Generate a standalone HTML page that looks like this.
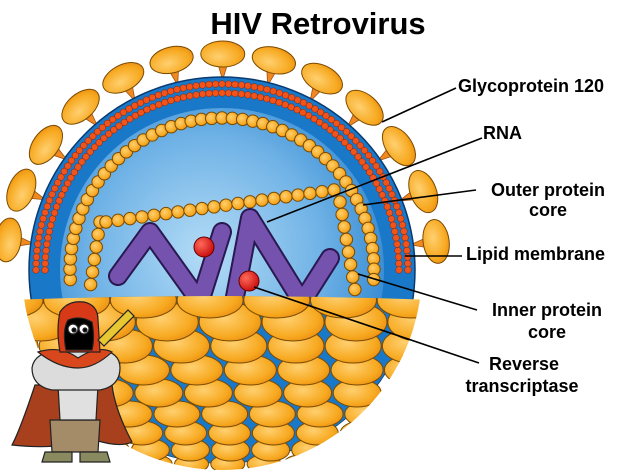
<!DOCTYPE html>
<html><head><meta charset="utf-8">
<style>
html,body{margin:0;padding:0;background:#fff;width:640px;height:470px;overflow:hidden}
svg{display:block}
text{font-family:"Liberation Sans",Arial,sans-serif;font-weight:bold;fill:#000}
</style></head>
<body>
<svg id="s" width="640" height="470" viewBox="0 0 640 470" xmlns="http://www.w3.org/2000/svg">
<defs>
<radialGradient id="inner" cx="0.45" cy="0.45" r="0.6">
<stop offset="0" stop-color="#b4dcf6"/><stop offset="0.6" stop-color="#6fb2e6"/><stop offset="1" stop-color="#2f86d0"/>
</radialGradient>
<radialGradient id="org" cx="0.4" cy="0.4" r="0.7">
<stop offset="0" stop-color="#ffd070"/><stop offset="0.7" stop-color="#f7a920"/><stop offset="1" stop-color="#e98a10"/>
</radialGradient>
<radialGradient id="red" cx="0.35" cy="0.35" r="0.7">
<stop offset="0" stop-color="#ff6a5a"/><stop offset="1" stop-color="#c80c0c"/>
</radialGradient>
<clipPath id="lower"><path d="M10,300 Q222,292 435,300 L435,470 L10,470 Z"/></clipPath>
<clipPath id="circ"><circle cx="222" cy="270" r="200"/></clipPath>
</defs>
<text x="318" y="34" font-size="31" text-anchor="middle">HIV Retrovirus</text>
<g id="spikes"></g>
<circle cx="222" cy="270" r="193" fill="#1a78c8" stroke="#0a3a70" stroke-width="1.5"/>
<g id="reddots"></g>
<circle cx="222" cy="270" r="162" fill="url(#inner)"/>
<g id="beads"></g>
<g fill="none" stroke-linecap="round" stroke-linejoin="round">
<path d="M118,276 L150,232 L200,302 L222,232" stroke="#2a1850" stroke-width="20"/>
<path d="M234,302 L250,218 L302,302 L330,258" stroke="#2a1850" stroke-width="20"/>
<path d="M118,276 L150,232 L200,302 L222,232" stroke="#7452ad" stroke-width="16"/>
<path d="M234,302 L250,218 L302,302 L330,258" stroke="#7452ad" stroke-width="16"/>
</g>
<circle cx="204" cy="247" r="10" fill="url(#red)" stroke="#600" stroke-width="1"/>
<circle cx="249" cy="281" r="10" fill="url(#red)" stroke="#600" stroke-width="1"/>
<g clip-path="url(#circ)"><g clip-path="url(#lower)">
<circle cx="222" cy="270" r="193" fill="#1a78c8"/>
<g id="low"></g></g></g>
<g stroke="#000" stroke-width="1.6">
<line x1="382" y1="122" x2="456" y2="88"/>
<line x1="267" y1="222" x2="482" y2="138"/>
<line x1="363" y1="205" x2="476" y2="190"/>
<line x1="405" y1="256" x2="462" y2="256"/>
<line x1="358" y1="274" x2="477" y2="310"/>
<line x1="254" y1="287" x2="479" y2="363"/>
</g>
<text x="458" y="92" font-size="18">Glycoprotein 120</text>
<text x="483" y="139" font-size="18">RNA</text>
<text x="548" y="196" font-size="18" text-anchor="middle">Outer protein</text>
<text x="548" y="216" font-size="18" text-anchor="middle">core</text>
<text x="466" y="260" font-size="18">Lipid membrane</text>
<text x="547" y="316" font-size="18" text-anchor="middle">Inner protein</text>
<text x="547" y="338" font-size="18" text-anchor="middle">core</text>
<text x="524" y="370" font-size="18" text-anchor="middle">Reverse</text>
<text x="522" y="392" font-size="18" text-anchor="middle">transcriptase</text>
<!-- mascot -->
<g stroke="#222" stroke-width="1.2">
<path d="M35,385 Q20,430 12,445 Q60,450 75,440 L95,440 Q120,448 132,442 Q115,410 112,385 Z" fill="#a8401e"/>
<path d="M50,420 L100,420 L98,452 L52,452 Z" fill="#a48c68"/>
<path d="M45,452 L72,452 L72,462 L42,462 Z M80,452 L107,452 L110,462 L80,462 Z" fill="#8a8a60"/>
<path d="M58,385 L98,385 L96,420 L60,420 Z" fill="#e0e0e0"/>
<path d="M32,368 Q34,352 60,350 L100,350 Q120,352 120,368 Q120,386 100,390 L52,390 Q32,386 32,368 Z" fill="#dcdcdc"/>
<path d="M38,352 Q60,345 78,358 Q98,345 112,352 Q95,368 78,368 Q58,368 38,352 Z" fill="#d8481c"/>
<path d="M60,352 Q56,330 60,312 Q68,300 84,302 Q98,305 98,320 L100,352 Z" fill="#d83a18"/>
<path d="M66,350 Q62,330 68,320 Q80,315 92,322 Q95,338 92,350 Z" fill="#000"/>
<circle cx="73" cy="329" r="5" fill="#fff"/><circle cx="84" cy="329" r="5" fill="#fff"/>
<circle cx="74" cy="330" r="2" fill="#000"/><circle cx="85" cy="330" r="2" fill="#000"/>
<path d="M98,340 L128,310 L134,316 L104,346 Z" fill="#e8c830"/>
</g>
<script>
(function(){
var NS="http://www.w3.org/2000/svg",cx=222,cy=270;
function el(p,t,a){var e=document.createElementNS(NS,t);for(var k in a)e.setAttribute(k,a[k]);p.appendChild(e);return e;}
var g;
g=document.getElementById('spikes');
for(var i=0;i<13;i++){var a=(188+i*13.7)*Math.PI/180;
 var bx=cx+190*Math.cos(a),by=cy+190*Math.sin(a),hx=cx+210*Math.cos(a),hy=cy+210*Math.sin(a);
 var px=-Math.sin(a)*6,py=Math.cos(a)*6;
 el(g,'polygon',{points:(bx)+','+(by)+' '+(hx+px)+','+(hy+py)+' '+(hx-px)+','+(hy-py),fill:'#f08a20',stroke:'#a05010','stroke-width':0.8});
 var ex=cx+216*Math.cos(a),ey=cy+216*Math.sin(a);
 el(g,'ellipse',{cx:ex,cy:ey,rx:13,ry:22,transform:'rotate('+(a*180/Math.PI)+' '+ex+' '+ey+')',fill:'url(#org)',stroke:'#7a4a00','stroke-width':1});}
g=document.getElementById('reddots');
[186,177].forEach(function(r){var n=Math.round(Math.PI*r/6.5);
 for(var i=0;i<=n;i++){var a=Math.PI*(1.0+ i/n*1.0);if(cy+r*Math.sin(a)>305)continue;
 el(g,'circle',{cx:cx+r*Math.cos(a),cy:cy+r*Math.sin(a),r:3.3,fill:'#f0541a',stroke:'#902000','stroke-width':0.5});}});
g=document.getElementById('beads');
function bead(x,y){el(g,'circle',{cx:x,cy:y,r:6.2,fill:'url(#org)',stroke:'#7a4a00','stroke-width':1});}
var r=152,n=48;for(var i=0;i<=n;i++){var a=Math.PI*(0.98+i/n*1.04);var y=cy+r*Math.sin(a);if(y>300)continue;bead(cx+r*Math.cos(a),y);}
for(var y=222;y<=292;y+=12.5)bead(100-(y-222)*0.15,y);
for(var t=0;t<=1.001;t+=1/19){bead(106+t*228,222-t*32);}
for(var y=202;y<=292;y+=12.5)bead(340+(y-202)*0.17,y);
g=document.getElementById('low');
var rows=[[464,17,9],[450,19,11],[433,21,12],[414,23,13],[393,24,14],[370,26,15],[346,28,17],[322,31,19],[300,33,18]];
rows.forEach(function(rw,j){var y=rw[0],rx=rw[1],ry=rw[2],st=2*rx*0.95+4;var off=(j%2)?st/2:0;
 for(var x=10+off;x<440;x+=st){el(g,'ellipse',{cx:x,cy:y,rx:rx,ry:ry,fill:'url(#org)',stroke:'#7a4a00','stroke-width':1});}});
})();
</script>
</svg>
</body></html>
